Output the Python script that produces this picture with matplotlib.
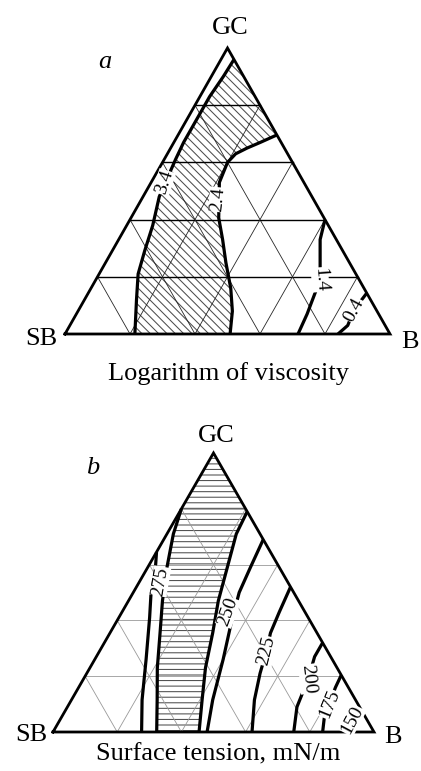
import matplotlib
matplotlib.use('Agg')
import matplotlib.pyplot as plt
from matplotlib.patches import Polygon

# DATA (ternary compositions in %, given as (GC, B); SB = 100 - GC - B)
# ############################################################################
GRID_LEVELS = [20, 40, 60, 80]

# a: logarithm of viscosity
VISC_LEVELS = ['3.4', '2.4', '1.4', '0.4']
VISC_34_GC = [96, 90, 83, 75, 67, 61, 48, 38, 29, 21, 12, 0]
VISC_34_B = [4, 3.7, 3, 3, 3, 3.5, 5, 8, 10, 12, 16, 21.5]
VISC_24_GC = [0, 8, 16, 25, 33, 40.6, 53, 60, 63, 65, 67, 69.6]
VISC_24_B = [50.8, 47.5, 43, 37, 32, 27, 21, 20, 21, 23.5, 26.6, 30.4]
VISC_14_GC = [40, 33, 26, 19, 13, 7, 0]
VISC_14_B = [60, 62, 65.5, 69, 70, 71, 71.7]
VISC_04_GC = [14.3, 8.4, 3, 0]
VISC_04_B = [85.7, 84.7, 85.5, 84]
VISC_LABEL_GC = [53, 47, 19, 8.4]
VISC_LABEL_B = [4, 23.5, 69, 84.7]
VISC_LABEL_ROT = [72, 84, -86, 62]

# b: surface tension, mN/m
ST_LEVELS = ['275', '250', '225', '200', '175', '150']
ST_275_GC = [64.5, 57, 49, 41, 26, 11.5, 0]
ST_275_B = [0, 3.3, 6, 9.6, 16, 22, 27.6]
ST_EDGE_L_GC = [80, 71, 59, 47, 35.5, 23, 11.5, 0]
ST_EDGE_L_B = [0, 2, 6, 10.6, 15.6, 21, 26.7, 32.3]
ST_EDGE_R_GC = [79, 71, 62, 47, 35.5, 23, 11.5, 0]
ST_EDGE_R_B = [21, 21.6, 24, 28, 32, 36, 40.7, 45.5]
ST_250_GC = [69, 59, 50, 39, 26, 11.5, 0]
ST_250_B = [31, 32, 33, 36, 40, 44, 48]
ST_225_GC = [52, 43, 35.5, 29, 21, 11.5, 0]
ST_225_B = [48, 49, 50, 52, 54, 57, 62]
ST_200_GC = [32, 27, 19, 9, 0]
ST_200_B = [68, 68, 70, 71.5, 75]
ST_175_GC = [20.4, 16, 10, 5, 0]
ST_175_B = [79.6, 80, 81, 82, 84]
ST_LABEL_GC = [54, 43, 29, 19, 10, 4.3]
ST_LABEL_B = [6.4, 33, 52, 70, 81, 91]
ST_LABEL_ROT = [80, 70, 76, -84, 68, 62]

# LAYOUT
# ############################################################################
FONT = ['Liberation Serif', 'DejaVu Serif']
plt.rcParams['hatch.linewidth'] = 0.75

PANEL_A = dict(left=65, right=390, base=334, top=48)
PANEL_B = dict(left=53, right=374, base=732, top=453)


def to_px(panel, gc, b):
    xs, ys = [], []
    for g, bb in zip(gc, b):
        xf = bb / 100 + g / 200
        yf = g / 100
        xs.append(panel['left'] + xf * (panel['right'] - panel['left']))
        ys.append(panel['base'] - yf * (panel['base'] - panel['top']))
    return xs, ys


def draw_grid(ax, panel, h_color, h_lw, d_color, d_lw):
    for v in GRID_LEVELS:
        x, y = to_px(panel, [v, v], [0, 100 - v])
        ax.plot(x, y, color=h_color, lw=h_lw, zorder=2)
        x, y = to_px(panel, [0, 100 - v], [v, v])
        ax.plot(x, y, color=d_color, lw=d_lw, zorder=2)
        x, y = to_px(panel, [0, 100 - v], [100 - v, 0])
        ax.plot(x, y, color=d_color, lw=d_lw, zorder=2)


def draw_frame(ax, panel):
    x, y = to_px(panel, [0, 0, 100, 0], [0, 100, 0, 0])
    ax.plot(x, y, color='black', lw=2.0, zorder=4, solid_joinstyle='miter')


def draw_line(ax, panel, gc, b):
    x, y = to_px(panel, gc, b)
    ax.plot(x, y, color='black', lw=2.3, zorder=3, solid_capstyle='butt')


def draw_labels(ax, panel, levels, gc, b, rot, size):
    x, y = to_px(panel, gc, b)
    for lab, xx, yy, r in zip(levels, x, y, rot):
        ax.text(xx, yy, lab, rotation=r, rotation_mode='anchor', ha='center',
                va='center', fontsize=size, family=FONT, zorder=5,
                bbox=dict(facecolor='white', edgecolor='none', pad=0.2))


def hatch_region(ax, panel, gc, b, pattern):
    x, y = to_px(panel, gc, b)
    ax.add_patch(Polygon(list(zip(x, y)), closed=True, facecolor='none',
                         edgecolor='0.3', lw=0, hatch=pattern, zorder=1))


fig = plt.figure(figsize=(4.21, 7.71), dpi=100)
ax = fig.add_axes([0, 0, 1, 1])
ax.set_xlim(0, 421)
ax.set_ylim(771, 0)
ax.axis('off')

# PANEL A
# ############################################################################
hatch_a_gc = VISC_34_GC + VISC_24_GC + [VISC_34_GC[0]]
hatch_a_b = VISC_34_B + VISC_24_B + [100 - VISC_34_GC[0]]
hatch_region(ax, PANEL_A, hatch_a_gc, hatch_a_b, '\\\\\\\\')
draw_grid(ax, PANEL_A, 'black', 1.0, '0.15', 0.6)
for gc, b in [(VISC_34_GC, VISC_34_B), (VISC_24_GC, VISC_24_B),
              (VISC_14_GC, VISC_14_B), (VISC_04_GC, VISC_04_B)]:
    draw_line(ax, PANEL_A, gc, b)
draw_frame(ax, PANEL_A)
draw_labels(ax, PANEL_A, VISC_LEVELS, VISC_LABEL_GC, VISC_LABEL_B,
            VISC_LABEL_ROT, 14)

ax.text(230, 28, 'GC', fontsize=19, family=FONT, ha='center', va='center')
ax.text(105, 62, 'a', fontsize=19, family=FONT, style='italic',
        ha='center', va='center')
ax.text(41, 339, 'SB', fontsize=19, family=FONT, ha='center', va='center')
ax.text(410, 342, 'B', fontsize=19, family=FONT, ha='center', va='center')
ax.text(229, 374, 'Logarithm of viscosity', fontsize=19, family=FONT,
        ha='center', va='center')

# PANEL B
# ############################################################################
hatch_b_gc = ST_EDGE_L_GC + ST_EDGE_R_GC[::-1] + [100]
hatch_b_b = ST_EDGE_L_B + ST_EDGE_R_B[::-1] + [0]
hatch_region(ax, PANEL_B, hatch_b_gc, hatch_b_b, '---')
draw_grid(ax, PANEL_B, '0.6', 0.6, '0.6', 0.6)
for gc, b in [(ST_275_GC, ST_275_B), (ST_EDGE_L_GC, ST_EDGE_L_B),
              (ST_EDGE_R_GC, ST_EDGE_R_B), (ST_250_GC, ST_250_B),
              (ST_225_GC, ST_225_B), (ST_200_GC, ST_200_B),
              (ST_175_GC, ST_175_B)]:
    draw_line(ax, PANEL_B, gc, b)
draw_frame(ax, PANEL_B)
draw_labels(ax, PANEL_B, ST_LEVELS, ST_LABEL_GC, ST_LABEL_B,
            ST_LABEL_ROT, 14)

ax.text(216, 436, 'GC', fontsize=19, family=FONT, ha='center', va='center')
ax.text(93, 468, 'b', fontsize=19, family=FONT, style='italic',
        ha='center', va='center')
ax.text(31, 735, 'SB', fontsize=19, family=FONT, ha='center', va='center')
ax.text(393, 737, 'B', fontsize=19, family=FONT, ha='center', va='center')
ax.text(218, 754, 'Surface tension, mN/m', fontsize=19, family=FONT,
        ha='center', va='center')

fig.savefig('out.png', dpi=100, facecolor='white')
